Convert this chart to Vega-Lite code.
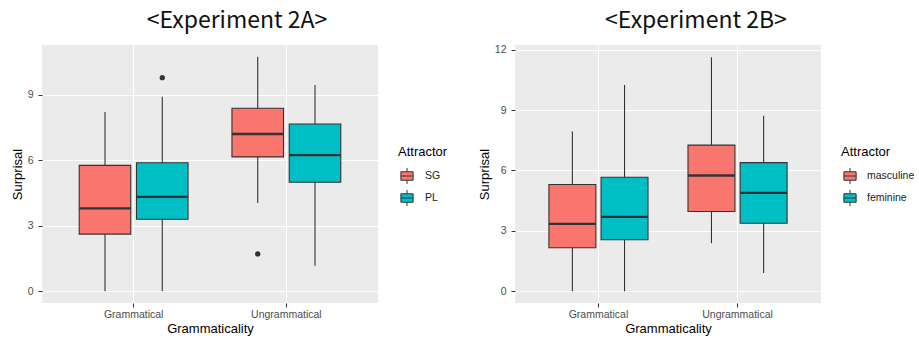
{
  "$schema": "https://vega.github.io/schema/vega-lite/v6.json",
  "background": "white",
  "padding": {"left": 11, "top": 9, "right": 0, "bottom": 0},
  "spacing": 30,
  "datasets": {
    "boxA": [
      {"Grammaticality": "Grammatical", "Attractor": "SG", "lower": 0, "q1": 2.62, "median": 3.8, "q3": 5.77, "upper": 8.22},
      {"Grammaticality": "Grammatical", "Attractor": "PL", "lower": 0, "q1": 3.3, "median": 4.33, "q3": 5.89, "upper": 8.92},
      {"Grammaticality": "Ungrammatical", "Attractor": "SG", "lower": 4.04, "q1": 6.16, "median": 7.21, "q3": 8.39, "upper": 10.75},
      {"Grammaticality": "Ungrammatical", "Attractor": "PL", "lower": 1.17, "q1": 5.0, "median": 6.24, "q3": 7.67, "upper": 9.46}
    ],
    "outA": [
      {"Grammaticality": "Grammatical", "Attractor": "PL", "Surprisal": 9.79},
      {"Grammaticality": "Ungrammatical", "Attractor": "SG", "Surprisal": 1.71}
    ],
    "boxB": [
      {"Grammaticality": "Grammatical", "Attractor": "masculine", "lower": 0, "q1": 2.16, "median": 3.35, "q3": 5.3, "upper": 7.94},
      {"Grammaticality": "Grammatical", "Attractor": "feminine", "lower": 0, "q1": 2.56, "median": 3.7, "q3": 5.66, "upper": 10.25},
      {"Grammaticality": "Ungrammatical", "Attractor": "masculine", "lower": 2.39, "q1": 3.96, "median": 5.75, "q3": 7.26, "upper": 11.62},
      {"Grammaticality": "Ungrammatical", "Attractor": "feminine", "lower": 0.91, "q1": 3.38, "median": 4.89, "q3": 6.39, "upper": 8.72}
    ]
  },
  "hconcat": [
    {
      "width": 336,
      "height": 258,
      "title": {"text": "<Experiment  2A>", "font": "Noto Sans CJK KR", "fontSize": 23, "fontWeight": "normal", "color": "#111111", "anchor": "middle", "dx": 27, "offset": 12},
      "data": {"name": "boxA"},
      "encoding": {
        "x": {"field": "Grammaticality", "type": "nominal",
          "scale": {"domain": ["Grammatical", "Ungrammatical"], "paddingInner": 0.25, "paddingOuter": 0.225},
          "axis": {"title": "Grammaticality", "labelAngle": 0, "grid": true, "bandPosition": 0.5, "gridColor": "white", "gridWidth": 1.1, "domain": false, "tickColor": "#333333", "tickSize": 4, "labelPadding": 2, "labelFont": "Liberation Sans", "labelFontSize": 10.5, "labelColor": "#4D4D4D", "titleFont": "Liberation Sans", "titleFontSize": 13, "titleFontWeight": "normal", "titleColor": "#000000", "titlePadding": 3}},
        "xOffset": {"field": "Attractor", "type": "nominal", "scale": {"domain": ["SG", "PL"], "paddingInner": 0.1, "paddingOuter": 0.05}}
      },
      "layer": [
        {
          "mark": {"type": "rule", "color": "#333333", "strokeWidth": 1.1},
          "encoding": {
            "y": {"field": "lower", "type": "quantitative",
              "scale": {"domain": [-0.54, 11.29], "nice": false, "zero": false},
              "axis": {"title": "Surprisal", "values": [0, 1.5, 3, 4.5, 6, 7.5, 9, 10.5],
                "labelExpr": "datum.value % 3 === 0 ? datum.label : ''",
                "grid": true, "gridColor": "white",
                "gridWidth": {"condition": {"test": "datum.value % 3 === 0", "value": 1.1}, "value": 0.55},
                "tickOpacity": {"condition": {"test": "datum.value % 3 === 0", "value": 1}, "value": 0},
                "domain": false, "tickColor": "#333333", "tickSize": 4, "labelPadding": 5,
                "labelFont": "Liberation Sans", "labelFontSize": 10.5, "labelColor": "#4D4D4D",
                "titleFont": "Liberation Sans", "titleFontSize": 13, "titleFontWeight": "normal", "titleColor": "#000000", "titlePadding": 3}},
            "y2": {"field": "upper"}
          }
        },
        {
          "mark": {"type": "bar", "stroke": "#333333", "strokeWidth": 1.1, "opacity": 1},
          "encoding": {
            "y": {"field": "q1", "type": "quantitative"},
            "y2": {"field": "q3"},
            "color": {"field": "Attractor", "type": "nominal",
              "scale": {"domain": ["SG", "PL"], "range": ["#F8766D", "#00BFC4"]},
              "legend": {"title": "Attractor", "orient": "none", "legendX": 356, "legendY": 101, "symbolType": "M-0.72,-0.5H0.72V0.5H-0.72Z M0,-0.95V-0.5 M0,0.5V0.95 M-0.72,0H0.72", "symbolSize": 289, "symbolStrokeColor": "#333333", "symbolStrokeWidth": 1, "symbolOpacity": 1, "rowPadding": 0, "titlePadding": 8, "labelOffset": 9,
                "titleFont": "Liberation Sans", "titleFontSize": 13, "titleFontWeight": "normal", "titleColor": "#000000",
                "labelFont": "Liberation Sans", "labelFontSize": 10.5, "labelColor": "#1A1A1A"}}
          }
        },
        {
          "mark": {"type": "bar", "stroke": "#333333", "strokeWidth": 2.3, "fillOpacity": 0},
          "encoding": {
            "y": {"field": "median", "type": "quantitative"},
            "y2": {"field": "median"}
          }
        },
        {
          "data": {"name": "outA"},
          "mark": {"type": "point", "filled": true, "color": "#333333", "size": 28, "opacity": 1},
          "encoding": {
            "y": {"field": "Surprisal", "type": "quantitative"}
          }
        }
      ]
    },
    {
      "width": 306,
      "height": 258,
      "title": {"text": "<Experiment  2B>", "font": "Noto Sans CJK KR", "fontSize": 23, "fontWeight": "normal", "color": "#111111", "anchor": "middle", "dx": 28, "offset": 12},
      "data": {"name": "boxB"},
      "encoding": {
        "x": {"field": "Grammaticality", "type": "nominal",
          "scale": {"domain": ["Grammatical", "Ungrammatical"], "paddingInner": 0.25, "paddingOuter": 0.225},
          "axis": {"title": "Grammaticality", "labelAngle": 0, "grid": true, "bandPosition": 0.5, "gridColor": "white", "gridWidth": 1.1, "domain": false, "tickColor": "#333333", "tickSize": 4, "labelPadding": 2, "labelFont": "Liberation Sans", "labelFontSize": 10.5, "labelColor": "#4D4D4D", "titleFont": "Liberation Sans", "titleFontSize": 13, "titleFontWeight": "normal", "titleColor": "#000000", "titlePadding": 3}},
        "xOffset": {"field": "Attractor", "type": "nominal", "scale": {"domain": ["masculine", "feminine"], "paddingInner": 0.1, "paddingOuter": 0.05}}
      },
      "layer": [
        {
          "mark": {"type": "rule", "color": "#333333", "strokeWidth": 1.1},
          "encoding": {
            "y": {"field": "lower", "type": "quantitative",
              "scale": {"domain": [-0.58, 12.23], "nice": false, "zero": false},
              "axis": {"title": "Surprisal", "values": [0, 1.5, 3, 4.5, 6, 7.5, 9, 10.5, 12],
                "labelExpr": "datum.value % 3 === 0 ? datum.label : ''",
                "grid": true, "gridColor": "white",
                "gridWidth": {"condition": {"test": "datum.value % 3 === 0", "value": 1.1}, "value": 0.55},
                "tickOpacity": {"condition": {"test": "datum.value % 3 === 0", "value": 1}, "value": 0},
                "domain": false, "tickColor": "#333333", "tickSize": 4, "labelPadding": 5,
                "labelFont": "Liberation Sans", "labelFontSize": 10.5, "labelColor": "#4D4D4D",
                "titleFont": "Liberation Sans", "titleFontSize": 13, "titleFontWeight": "normal", "titleColor": "#000000", "titlePadding": 3}},
            "y2": {"field": "upper"}
          }
        },
        {
          "mark": {"type": "bar", "stroke": "#333333", "strokeWidth": 1.1, "opacity": 1},
          "encoding": {
            "y": {"field": "q1", "type": "quantitative"},
            "y2": {"field": "q3"},
            "color": {"field": "Attractor", "type": "nominal",
              "scale": {"domain": ["masculine", "feminine"], "range": ["#F8766D", "#00BFC4"]},
              "legend": {"title": "Attractor", "orient": "none", "legendX": 326, "legendY": 101, "symbolType": "M-0.72,-0.5H0.72V0.5H-0.72Z M0,-0.95V-0.5 M0,0.5V0.95 M-0.72,0H0.72", "symbolSize": 289, "symbolStrokeColor": "#333333", "symbolStrokeWidth": 1, "symbolOpacity": 1, "rowPadding": 0, "titlePadding": 8, "labelOffset": 8,
                "titleFont": "Liberation Sans", "titleFontSize": 13, "titleFontWeight": "normal", "titleColor": "#000000",
                "labelFont": "Liberation Sans", "labelFontSize": 10.5, "labelColor": "#1A1A1A"}}
          }
        },
        {
          "mark": {"type": "bar", "stroke": "#333333", "strokeWidth": 2.3, "fillOpacity": 0},
          "encoding": {
            "y": {"field": "median", "type": "quantitative"},
            "y2": {"field": "median"}
          }
        }
      ]
    }
  ],
  "resolve": {"scale": {"color": "independent", "x": "independent", "y": "independent", "xOffset": "independent"}},
  "config": {
    "view": {"stroke": null, "fill": "#EBEBEB"},
    "axis": {"gridColor": "white"}
  }
}
